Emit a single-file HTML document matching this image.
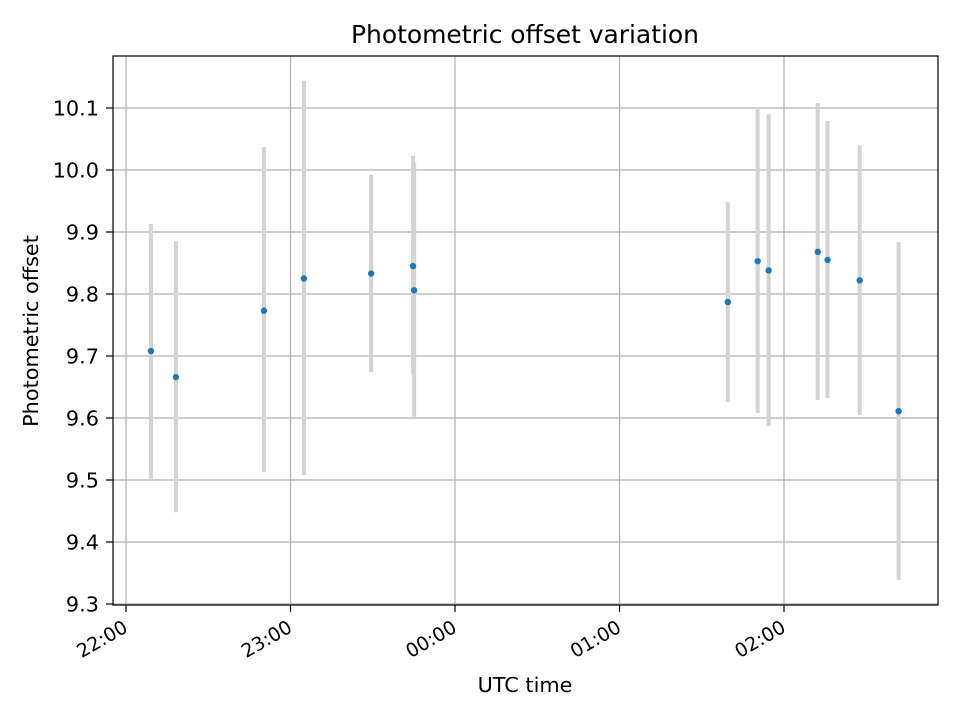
<!DOCTYPE html>
<html><head><meta charset="utf-8"><style>
body{margin:0;background:#fff;}
svg text{font-family:"DejaVu Sans","Liberation Sans",sans-serif;fill:#000;}
</style></head><body>
<svg id="chart" width="960" height="720" viewBox="0 0 960 720" xmlns="http://www.w3.org/2000/svg">
<rect width="960" height="720" fill="#fff"/>
<text x="525" y="43" font-size="25" text-anchor="middle" textLength="348">Photometric offset variation</text>
<g id="grid"></g><g id="bars"></g><g id="pts"></g><g id="ticks"></g>
<rect x="113" y="56" width="825" height="549" fill="none" stroke="#000" stroke-width="1.2"/>
<text x="525" y="692" font-size="20.8" text-anchor="middle">UTC time</text>
<text transform="translate(38,331) rotate(-90)" font-size="20.8" text-anchor="middle">Photometric offset</text>
</svg>
<script>
const minutes=[9.1,18.2,50.3,64.9,89.4,104.7,105.1,219.5,230.4,234.4,252.3,255.9,267.6,281.8];
const values=[9.708,9.666,9.773,9.825,9.833,9.845,9.806,9.787,9.853,9.838,9.868,9.855,9.822,9.611];
const upper=[9.913,9.885,10.037,10.144,9.992,10.023,10.011,9.948,10.100,10.090,10.108,10.079,10.040,9.884];
const lower=[9.502,9.448,9.513,9.508,9.674,9.669,9.602,9.626,9.608,9.587,9.629,9.632,9.605,9.339];
const yTicks=[9.3,9.4,9.5,9.6,9.7,9.8,9.9,10.0,10.1];
const xTickMin=[0,60,120,180,240];
const xTickLabels=["22:00","23:00","00:00","01:00","02:00"];
const NS="http://www.w3.org/2000/svg";
const X=m=>126+m*164.5/60;
const Y=v=>604-(v-9.3)*620;
function mk(tag,attrs,parent){const e=document.createElementNS(NS,tag);for(const k in attrs)e.setAttribute(k,attrs[k]);document.getElementById(parent).appendChild(e);return e;}
yTicks.forEach((t,i)=>{
 const y=Y(t);
 const g=mk('line',{x1:113,x2:938,y1:y,y2:y,stroke:'#b0b0b0','stroke-width':1.2},'grid');
 
 
 const tk=mk('line',{x1:106,x2:113,y1:y,y2:y,stroke:'#000','stroke-width':1.2},'ticks');
 
 
 const tx=mk('text',{x:99,y:y+7.5,'font-size':20.8,'text-anchor':'end'},'ticks');
 tx.textContent=t.toFixed(1);
 
 
});
xTickMin.forEach((m,i)=>{
 const x=X(m);
 const g=mk('line',{x1:x,x2:x,y1:56,y2:605,stroke:'#b0b0b0','stroke-width':1.2},'grid');
 
 
 const tk=mk('line',{x1:x,x2:x,y1:605,y2:612,stroke:'#000','stroke-width':1.2},'ticks');
 
 
 const tx=mk('text',{x:x+3,y:631,'font-size':19,'text-anchor':'end',transform:`rotate(-30 ${x+3} 631)`},'ticks');
 tx.textContent=xTickLabels[i];
 
 
});
minutes.forEach((m,i)=>{
 const b=mk('line',{x1:X(m),x2:X(m),y1:Y(upper[i]),y2:Y(lower[i]),stroke:'#d3d3d3','stroke-width':4},'bars');
 
 
 const p=mk('circle',{cx:X(m),cy:Y(values[i]),r:3.2,fill:'#1f77b4'},'pts');
 
 
});
</script>
</body></html>
